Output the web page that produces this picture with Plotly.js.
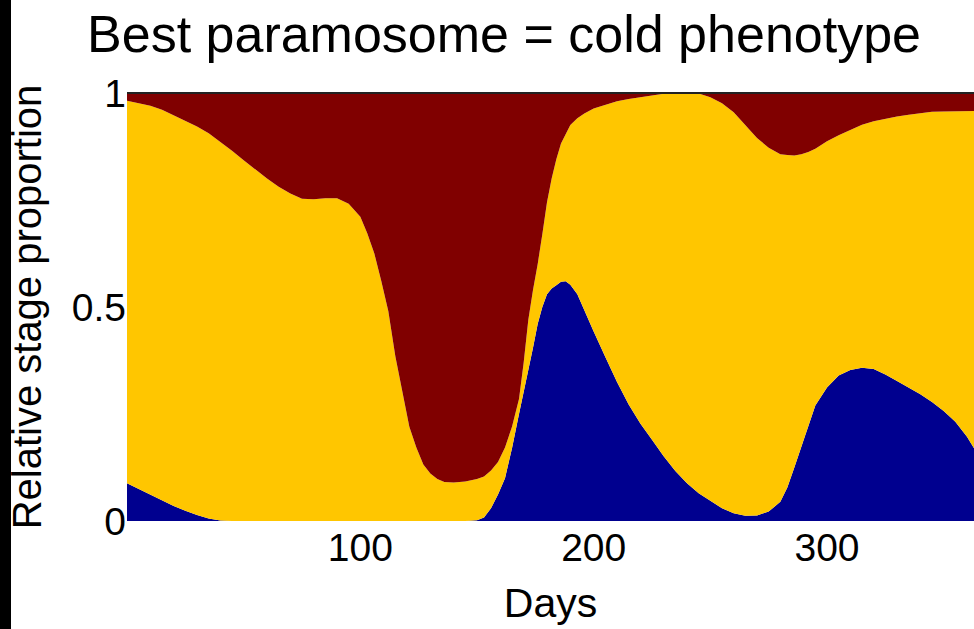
<!DOCTYPE html>
<html>
<head>
<meta charset="utf-8">
<script src="https://cdn.plot.ly/plotly-3.0.1.min.js"></script>
<style>
  html, body { margin: 0; padding: 0; background: #ffffff; }
  #chart { width: 974px; height: 629px; position: relative; }
  #leftbar { position: absolute; left: 0; top: 0; width: 11px; height: 629px; background: #000; z-index: 10; }
</style>
</head>
<body>
<div id="leftbar"></div>
<div id="chart"></div>
<script>
// Day of year
const days = [0,5,10,15,20,25,30,35,40,45,50,55,60,65,70,75,80,85,90,95,100,103,106,109,112,115,118,121,124,127,130,133,136,140,145,150,153,156,159,162,165,168,170,172,174,176,178,180,182,184,186,188,190,193,196,200,205,210,215,220,225,230,235,240,245,250,255,260,265,270,275,280,283,286,289,292,295,300,305,310,315,320,325,330,335,340,345,350,355,360,363];

// Relative stage proportions (blue stage, yellow stage, dark red stage)
const stageBlue = [0.088,0.075,0.061,0.048,0.035,0.024,0.014,0.006,0.001,0,0,0,0,0,0,0,0,0,0,0,0,0,0,0,0,0,0,0,0,0,0,0,0,0,0,0.002,0.008,0.030,0.062,0.100,0.170,0.250,0.300,0.355,0.405,0.460,0.500,0.530,0.543,0.551,0.559,0.560,0.552,0.530,0.492,0.443,0.383,0.325,0.272,0.228,0.190,0.151,0.117,0.088,0.065,0.047,0.030,0.018,0.012,0.013,0.022,0.045,0.078,0.125,0.172,0.222,0.270,0.312,0.340,0.353,0.358,0.355,0.342,0.327,0.312,0.296,0.278,0.257,0.232,0.197,0.170];

const stageYellow = [0.894,0.901,0.909,0.913,0.913,0.911,0.908,0.900,0.885,0.865,0.843,0.821,0.800,0.781,0.765,0.753,0.752,0.754,0.754,0.741,0.711,0.672,0.625,0.560,0.490,0.385,0.300,0.220,0.172,0.132,0.111,0.098,0.091,0.090,0.092,0.096,0.096,0.088,0.076,0.072,0.050,0.035,0.070,0.115,0.135,0.140,0.170,0.215,0.257,0.294,0.323,0.345,0.373,0.411,0.460,0.521,0.590,0.656,0.714,0.762,0.805,0.847,0.882,0.911,0.934,0.943,0.946,0.937,0.913,0.882,0.850,0.812,0.777,0.729,0.685,0.640,0.600,0.575,0.561,0.561,0.568,0.579,0.598,0.618,0.637,0.656,0.678,0.700,0.725,0.761,0.788];

const stageRed = [0.018,0.024,0.030,0.039,0.052,0.065,0.078,0.094,0.114,0.135,0.157,0.179,0.200,0.219,0.235,0.247,0.248,0.246,0.246,0.259,0.289,0.328,0.375,0.440,0.510,0.615,0.700,0.780,0.828,0.868,0.889,0.902,0.909,0.910,0.908,0.902,0.896,0.882,0.862,0.828,0.780,0.715,0.630,0.530,0.460,0.400,0.330,0.255,0.200,0.155,0.118,0.095,0.075,0.059,0.048,0.036,0.027,0.019,0.014,0.010,0.005,0.002,0.001,0.001,0.001,0.010,0.024,0.045,0.075,0.105,0.128,0.143,0.145,0.146,0.143,0.138,0.130,0.113,0.099,0.086,0.074,0.066,0.060,0.055,0.051,0.048,0.044,0.043,0.043,0.042,0.042];

const xTickVals = [100, 200, 300];
const xTickText = ['100', '200', '300'];
const yTickVals = [0, 0.5, 1];
const yTickText = ['0', '0.5', '1'];

const FONT = 'Liberation Sans, Arial, Helvetica, sans-serif';

function area(y, color, name) {
  return {
    x: days, y: y, type: 'scatter', mode: 'lines', name: name,
    stackgroup: 'stages', fillcolor: color,
    line: { width: 0, color: color }, hoverinfo: 'skip'
  };
}

const data = [
  area(stageBlue, '#00008F', 'Stage 1'),
  area(stageYellow, '#FFC600', 'Stage 2'),
  area(stageRed, '#800000', 'Stage 3')
];

const layout = {
  width: 974, height: 629,
  margin: { l: 127, r: 0, t: 93, b: 108 },
  paper_bgcolor: '#ffffff', plot_bgcolor: '#ffffff',
  showlegend: false,
  font: { family: FONT, color: '#000000' },
  title: {
    text: 'Best paramosome = cold phenotype',
    font: { size: 52, family: FONT, color: '#000000' },
    xref: 'container', x: 0.5175, xanchor: 'center',
    yref: 'container', y: 0.975, yanchor: 'top'
  },
  xaxis: {
    range: [0, 363], showgrid: false, zeroline: false, showline: false,
    tickmode: 'array', tickvals: xTickVals, ticktext: xTickText,
    ticks: '', tickfont: { size: 39, family: FONT, color: '#000000' },
    title: { text: 'Days', font: { size: 41, family: FONT, color: '#000000' }, standoff: 20 },
    automargin: false
  },
  yaxis: {
    range: [0, 1], showgrid: false, zeroline: false, showline: false,
    tickmode: 'array', tickvals: yTickVals, ticktext: yTickText,
    ticks: '', tickfont: { size: 39, family: FONT, color: '#000000' },
    title: { text: 'Relative stage proportion', font: { size: 40, family: FONT, color: '#000000' }, standoff: 17 },
    automargin: false
  },
  shapes: [
    { type: 'line', xref: 'paper', yref: 'paper', x0: 0, x1: 1, y0: 1, y1: 1,
      line: { color: '#222222', width: 2 }, layer: 'above' }
  ]
};

Plotly.newPlot('chart', data, layout, { staticPlot: true, displayModeBar: false });
</script>
</body>
</html>
